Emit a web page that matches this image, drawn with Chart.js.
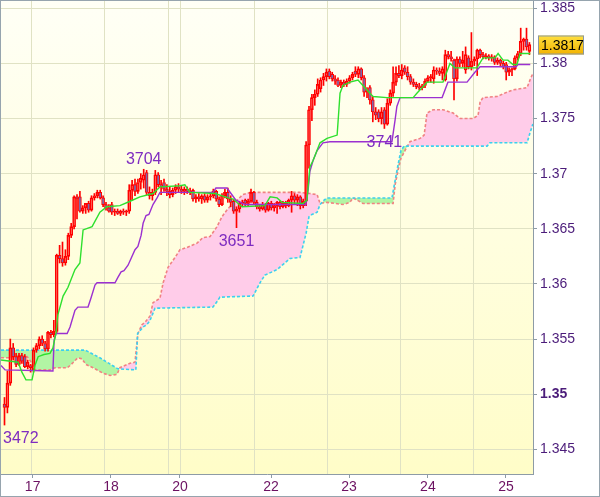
<!DOCTYPE html>
<html><head><meta charset="utf-8">
<script src="https://cdn.jsdelivr.net/npm/chart.js@4.4.0/dist/chart.umd.min.js"></script>
<style>html,body{margin:0;padding:0;background:#fff}#wrap{width:600px;height:497px}</style>
</head><body><div id="wrap"><canvas id="c" width="600" height="497"></canvas></div>
<script>
// Candles: [open, high, low, close], one per bar (bar index = position)
const ohlc = [
[1.3491,1.3497,1.3472,1.3488],[1.3488,1.3521,1.3483,1.3510],[1.3510,1.3550,1.3508,1.3542],[1.3542,1.3546,1.3531,1.3534],
[1.3534,1.3537,1.3525,1.3527],[1.3527,1.3537,1.3526,1.3535],[1.3535,1.3537,1.3528,1.3530],[1.3534,1.3536,1.3524,1.3525],
[1.3525,1.3531,1.3523,1.3529],[1.3526,1.3527,1.3520,1.3524],[1.3522,1.3542,1.3520,1.3540],[1.3540,1.3546,1.3538,1.3544],
[1.3544,1.3552,1.3541,1.3550],[1.3550,1.3553,1.3544,1.3546],[1.3546,1.3548,1.3539,1.3541],[1.3541,1.3557,1.3539,1.3556],
[1.3556,1.3558,1.3551,1.3554],[1.3554,1.3567,1.3552,1.3557],[1.3557,1.3627,1.3555,1.3626],[1.3626,1.3635,1.3619,1.3623],
[1.3623,1.3638,1.3616,1.3619],[1.3619,1.3631,1.3617,1.3625],[1.3625,1.3646,1.3622,1.3644],[1.3644,1.3655,1.3642,1.3652],
[1.3652,1.3680,1.3650,1.3679],[1.3679,1.3681,1.3659,1.3677],[1.3679,1.3684,1.3665,1.3666],[1.3666,1.3671,1.3664,1.3669],
[1.3669,1.3673,1.3664,1.3673],[1.3673,1.3675,1.3665,1.3667],[1.3667,1.3680,1.3666,1.3678],[1.3678,1.3682,1.3676,1.3680],
[1.3680,1.3685,1.3678,1.3683],[1.3683,1.3685,1.3677,1.3678],[1.3678,1.3680,1.3670,1.3672],[1.3672,1.3674,1.3667,1.3669],
[1.3669,1.3672,1.3665,1.3666],[1.3672,1.3674,1.3663,1.3665],[1.3665,1.3668,1.3662,1.3666],[1.3666,1.3668,1.3663,1.3664],
[1.3664,1.3667,1.3662,1.3666],[1.3666,1.3668,1.3663,1.3665],[1.3665,1.3667,1.3662,1.3666],[1.3666,1.3690,1.3664,1.3685],
[1.3685,1.3694,1.3676,1.3690],[1.3690,1.3695,1.3680,1.3684],[1.3684,1.3695,1.3682,1.3692],[1.3692,1.3700,1.3686,1.3696],
[1.3694,1.3704,1.3687,1.3699],[1.3701,1.3703,1.3681,1.3683],[1.3683,1.3688,1.3677,1.3680],[1.3680,1.3686,1.3676,1.3683],
[1.3683,1.3703,1.3681,1.3699],[1.3699,1.3701,1.3688,1.3690],[1.3690,1.3694,1.3681,1.3688],[1.3692,1.3695,1.3684,1.3686],
[1.3686,1.3690,1.3680,1.3684],[1.3684,1.3688,1.3678,1.3681],[1.3681,1.3687,1.3679,1.3685],[1.3685,1.3690,1.3682,1.3688],
[1.3688,1.3691,1.3683,1.3686],[1.3686,1.3689,1.3682,1.3684],[1.3684,1.3688,1.3681,1.3686],[1.3686,1.3688,1.3682,1.3684],
[1.3684,1.3687,1.3681,1.3683],[1.3685,1.3686,1.3675,1.3677],[1.3677,1.3681,1.3674,1.3679],[1.3679,1.3682,1.3675,1.3677],
[1.3677,1.3681,1.3673,1.3680],[1.3680,1.3682,1.3674,1.3676],[1.3676,1.3681,1.3674,1.3679],[1.3679,1.3682,1.3676,1.3680],
[1.3680,1.3686,1.3678,1.3684],[1.3684,1.3685,1.3675,1.3677],[1.3677,1.3679,1.3670,1.3672],[1.3672,1.3682,1.3671,1.3680],
[1.3680,1.3686,1.3678,1.3683],[1.3683,1.3687,1.3674,1.3677],[1.3677,1.3680,1.3670,1.3674],[1.3675,1.3677,1.3664,1.3666],
[1.3666,1.3670,1.3651,1.3668],[1.3668,1.3675,1.3665,1.3673],[1.3673,1.3676,1.3670,1.3674],[1.3676,1.3677,1.3671,1.3673],
[1.3673,1.3677,1.3670,1.3675],[1.3675,1.3686,1.3674,1.3683],[1.3683,1.3684,1.3672,1.3674],[1.3674,1.3676,1.3668,1.3670],
[1.3670,1.3672,1.3666,1.3668],[1.3668,1.3674,1.3667,1.3672],[1.3672,1.3673,1.3665,1.3667],[1.3667,1.3674,1.3666,1.3673],
[1.3673,1.3675,1.3667,1.3669],[1.3669,1.3673,1.3666,1.3671],[1.3671,1.3675,1.3664,1.3674],[1.3674,1.3675,1.3668,1.3670],
[1.3670,1.3675,1.3669,1.3673],[1.3673,1.3675,1.3669,1.3671],[1.3671,1.3677,1.3670,1.3676],[1.3676,1.3684,1.3665,1.3680],
[1.3680,1.3682,1.3672,1.3676],[1.3676,1.3681,1.3671,1.3679],[1.3679,1.3680,1.3668,1.3671],[1.3671,1.3677,1.3669,1.3675],
[1.3675,1.3729,1.3671,1.3726],[1.3726,1.3761,1.3705,1.3758],[1.3758,1.3772,1.3748,1.3769],[1.3769,1.3776,1.3762,1.3772],
[1.3772,1.3786,1.3770,1.3781],[1.3777,1.3787,1.3774,1.3785],[1.3785,1.3791,1.3780,1.3788],[1.3788,1.3795,1.3784,1.3792],
[1.3793,1.3795,1.3786,1.3788],[1.3790,1.3792,1.3784,1.3786],[1.3786,1.3789,1.3781,1.3784],[1.3785,1.3787,1.3779,1.3780],
[1.3780,1.3785,1.3778,1.3783],[1.3783,1.3785,1.3779,1.3781],[1.3781,1.3786,1.3779,1.3784],[1.3784,1.3789,1.3782,1.3787],
[1.3787,1.3792,1.3785,1.3790],[1.3793,1.3797,1.3788,1.3790],[1.3790,1.3797,1.3787,1.3795],[1.3795,1.3796,1.3785,1.3787],
[1.3787,1.3789,1.3770,1.3774],[1.3774,1.3778,1.3769,1.3775],[1.3778,1.3780,1.3763,1.3767],[1.3767,1.3770,1.3747,1.3756],
[1.3756,1.3760,1.3749,1.3753],[1.3756,1.3758,1.3747,1.3750],[1.3750,1.3760,1.3745,1.3756],[1.3758,1.3760,1.3741,1.3745],
[1.3745,1.3768,1.3744,1.3764],[1.3764,1.3776,1.3762,1.3773],[1.3773,1.3797,1.3770,1.3783],[1.3783,1.3797,1.3780,1.3791],
[1.3791,1.3798,1.3787,1.3789],[1.3789,1.3799,1.3786,1.3794],[1.3796,1.3798,1.3790,1.3792],[1.3792,1.3797,1.3785,1.3788],
[1.3788,1.3790,1.3781,1.3783],[1.3783,1.3786,1.3779,1.3781],[1.3781,1.3783,1.3777,1.3779],[1.3779,1.3782,1.3776,1.3778],
[1.3778,1.3781,1.3776,1.3780],[1.3780,1.3786,1.3778,1.3784],[1.3784,1.3789,1.3783,1.3787],[1.3787,1.3790,1.3783,1.3788],
[1.3786,1.3797,1.3782,1.3794],[1.3794,1.3796,1.3790,1.3793],[1.3793,1.3796,1.3789,1.3791],[1.3791,1.3797,1.3785,1.3795],
[1.3785,1.3812,1.3784,1.3808],[1.3808,1.3811,1.3804,1.3806],[1.3806,1.3811,1.3802,1.3804],[1.3803,1.3804,1.3767,1.3786],
[1.3786,1.3806,1.3784,1.3804],[1.3804,1.3806,1.3797,1.3800],[1.3800,1.3811,1.3797,1.3803],[1.3794,1.3815,1.3791,1.3808],
[1.3805,1.3807,1.3795,1.3797],[1.3797,1.3828,1.3794,1.3802],[1.3802,1.3806,1.3798,1.3804],[1.3804,1.3813,1.3789,1.3812],
[1.3812,1.3813,1.3805,1.3808],[1.3808,1.3810,1.3804,1.3806],[1.3806,1.3809,1.3804,1.3807],[1.3807,1.3808,1.3803,1.3805],
[1.3805,1.3808,1.3802,1.3806],[1.3806,1.3807,1.3799,1.3801],[1.3801,1.3805,1.3799,1.3803],[1.3803,1.3804,1.3798,1.3800],
[1.3800,1.3802,1.3795,1.3797],[1.3799,1.3801,1.3785,1.3792],[1.3792,1.3796,1.3789,1.3794],[1.3794,1.3796,1.3789,1.3795],
[1.3795,1.3807,1.3794,1.3805],[1.3805,1.3811,1.3803,1.3809],[1.3809,1.3832,1.3807,1.3820],[1.3820,1.3823,1.3812,1.3822],
[1.3822,1.3832,1.3812,1.3815],[1.3811,1.3819,1.3808,1.3817]
];

// Tenkan-sen (green) vertices: bar position / price
const tenkanX = [-1.2,4.7,6.0,7.4,9.5,10.5,11.6,13.6,15.7,16.7,17.8,18.4,20.2,21.9,24.3,26.0,27.1,30.2,32.9,35.3,39.8,43.3,46.7,51.2,53.6,60.5,62.2,63.9,72.6,77.1,78.8,81.9,89.8,91.6,94.0,95.7,102.9,104.3,105.3,106.4,108.8,111.2,114.7,115.7,116.7,119.1,121.9,123.6,126.0,127.1,131.9,140.9,142.2,145.7,151.2,153.6,155.3,162.9,165.0,169.1,170.2,171.9,173.6,175.3,176.7,177.8,181.3];
const tenkanY = [1.3531,1.3529,1.3520,1.3513,1.3513,1.3526,1.3534,1.3536,1.3537,1.3542,1.3556,1.3572,1.3589,1.3597,1.3613,1.3619,1.3649,1.3652,1.3665,1.3670,1.3671,1.3675,1.3679,1.3682,1.3688,1.3689,1.3690,1.3683,1.3682,1.3678,1.3677,1.3670,1.3671,1.3679,1.3678,1.3674,1.3673,1.3676,1.3706,1.3712,1.3728,1.3732,1.3735,1.3773,1.3780,1.3783,1.3785,1.3780,1.3773,1.3770,1.3769,1.3769,1.3773,1.3783,1.3783,1.3800,1.3796,1.3796,1.3805,1.3805,1.3809,1.3803,1.3803,1.3799,1.3799,1.3809,1.3809];

// Kijun-sen (purple) vertices
const kijunX = [-1.2,0.2,16.7,17.1,17.8,21.6,22.6,24.3,25.3,28.8,29.8,31.2,31.9,38.1,39.1,40.2,41.2,42.6,45.0,46.0,47.1,47.8,48.8,49.8,51.2,52.6,53.6,71.9,72.9,76.7,78.1,79.8,82.9,85.7,103.9,104.7,105.3,106.4,107.8,109.8,112.2,133.6,134.7,135.3,136.4,150.9,152.9,159.5,162.2,164.0,176.4,177.1,181.3];
const kijunY = [1.3526,1.3522,1.3521,1.3549,1.3555,1.3555,1.3561,1.3576,1.3579,1.3579,1.3587,1.3599,1.3601,1.3601,1.3606,1.3611,1.3612,1.3617,1.3631,1.3634,1.3644,1.3655,1.3662,1.3663,1.3672,1.3678,1.3683,1.3683,1.3687,1.3687,1.3682,1.3676,1.3672,1.3672,1.3672,1.3685,1.3702,1.3712,1.3721,1.3728,1.3729,1.3729,1.3749,1.3761,1.3769,1.3769,1.3783,1.3783,1.3792,1.3797,1.3797,1.3799,1.3799];

// Senkou span A (salmon dashed) vertices
const spanAX = [-1.2,3.6,7.8,9.5,10.5,15.7,17.4,21.6,22.6,25.3,26.7,28.1,30.5,34.0,36.4,38.8,39.8,43.3,45.0,46.0,47.4,48.4,50.2,51.2,53.6,54.7,56.4,58.8,60.5,62.9,66.4,68.4,70.9,73.3,75.0,76.7,78.4,80.2,82.2,84.7,101.9,105.3,107.8,108.8,111.2,116.7,119.1,120.2,121.6,123.6,134.0,134.7,135.7,136.7,138.1,139.8,143.3,144.7,145.7,147.8,151.2,154.7,157.1,161.6,163.3,164.0,165.0,169.8,173.3,175.3,180.2,181.2,182.2];
const spanAY = [1.3533,1.3533,1.3534,1.3528,1.3522,1.3522,1.3524,1.3524,1.3526,1.3533,1.3532,1.3527,1.3524,1.3519,1.3517,1.3518,1.3524,1.3528,1.3529,1.3555,1.3563,1.3565,1.3571,1.3583,1.3587,1.3601,1.3615,1.3624,1.3631,1.3633,1.3637,1.3642,1.3643,1.3652,1.3661,1.3667,1.3672,1.3676,1.3681,1.3683,1.3683,1.3682,1.3681,1.3673,1.3674,1.3672,1.3674,1.3678,1.3676,1.3673,1.3673,1.3690,1.3703,1.3714,1.3721,1.3729,1.3732,1.3735,1.3755,1.3758,1.3758,1.3755,1.3750,1.3750,1.3753,1.3765,1.3769,1.3770,1.3774,1.3776,1.3778,1.3785,1.3791];

// Senkou span B (cyan dashed) vertices
const spanBX = [-1.2,27.8,32.9,39.1,45.3,45.9,47.8,49.1,50.2,51.9,71.9,73.3,74.3,85.7,88.1,89.8,94.0,98.4,101.9,104.0,105.0,106.0,107.8,108.8,110.2,111.2,133.6,134.7,135.7,136.7,137.8,166.4,167.4,180.2,181.2,182.2];
const spanBY = [1.3540,1.3540,1.3533,1.3523,1.3522,1.3555,1.3561,1.3563,1.3567,1.3578,1.3579,1.3584,1.3588,1.3589,1.3601,1.3608,1.3613,1.3623,1.3624,1.3646,1.3661,1.3663,1.3665,1.3672,1.3676,1.3678,1.3678,1.3694,1.3708,1.3721,1.3725,1.3725,1.3728,1.3728,1.3737,1.3745];

// Axes
const xMin = -1.207, xMax = 182.24;
const yMin = 1.34276, yMax = 1.385662;
const xTickVals = [9.7,36.7,60.5,91.9,118.8,146.0,172.9];
const xTickLabels = ['17','18','20','22','23','24','25'];
const xGridVals = [9.3,34.4,56.5,60.6,86.2,111.4,136.5,161.7];
const yTickVals = [1.345,1.35,1.355,1.36,1.365,1.37,1.375,1.38,1.385];
const yTickLabels = ['1.345','1.35','1.355','1.36','1.365','1.37','1.375','1.38','1.385'];
const boldTick = 1.35;

// Marked extremes: bar index and which end of the candle
const markIndex = [0,48,80,131];
const markSide = ['low','high','low','low'];

const FONT = '"Liberation Sans", Arial, sans-serif';
Chart.defaults.font.family = FONT;
Chart.defaults.font.size = 14;

const RED = '#ff0000', BEAR = '#7c68ac', AXIS = '#8d9ba6', GRID = '#e0e2c4';

const bodies = ohlc.map((d,i)=>({x:i, y:[d[0], d[3]]}));
const upW = ohlc.map((d,i)=>({x:i, y:[Math.max(d[0],d[3]), d[1]]}));
const loW = ohlc.map((d,i)=>({x:i, y:[d[2], Math.min(d[0],d[3])]}));
const pts = (xs,ys)=>xs.map((x,i)=>({x, y:ys[i]}));

const plug = {
  id:'deco',
  beforeDraw(chart){
    const {ctx, chartArea:a} = chart;
    ctx.save();
    ctx.fillStyle = '#ffffff';
    ctx.fillRect(0,0,chart.width,chart.height);
    const g = ctx.createLinearGradient(0,a.top,0,a.bottom);
    g.addColorStop(0,'#fffff6'); g.addColorStop(1,'#fffdc8');
    ctx.fillStyle = g;
    ctx.fillRect(a.left,a.top,a.right-a.left,a.bottom-a.top);
    ctx.restore();
  },
  afterDatasetsDraw(chart){
    const {ctx, chartArea:a} = chart;
    const xs = chart.scales.x, ys = chart.scales.y;
    ctx.save();
    ctx.font = '16px ' + FONT;
    ctx.fillStyle = '#7e2cc0';
    ctx.textBaseline = 'middle';
    ctx.textAlign = 'left';
    markIndex.forEach((idx,k)=>{
      const isLow = markSide[k]==='low';
      const v = isLow ? ohlc[idx][2] : ohlc[idx][1];
      const txt = String(Math.round(v*10000) % 10000);
      const w = ctx.measureText(txt).width;
      const px = xs.getPixelForValue(idx);
      let left = Math.max(px - w/2, a.left + 2);
      const py = ys.getPixelForValue(v) + (isLow ? 14 : -10);
      ctx.fillText(txt, left, py);
    });
    ctx.restore();
  },
  afterDraw(chart){
    const {ctx} = chart;
    const ys = chart.scales.y;
    ctx.save();
    // price marker
    const last = ohlc[ohlc.length-1][3];
    const py = Math.round(ys.getPixelForValue(last));
    const x0 = ys.left + 5, w = 46, h = 19;
    const g = ctx.createLinearGradient(0,py-h/2,0,py+h/2);
    g.addColorStop(0,'#ffe040'); g.addColorStop(1,'#f2b200');
    ctx.fillStyle = g;
    ctx.fillRect(x0, py-h/2, w, h);
    ctx.strokeStyle = '#8a97a2'; ctx.lineWidth = 1;
    ctx.strokeRect(x0+0.5, py-h/2+0.5, w-1, h-1);
    ctx.fillStyle = '#000';
    ctx.font = '14px ' + FONT;
    ctx.textBaseline = 'middle'; ctx.textAlign = 'left';
    ctx.fillText(last.toFixed(4), x0+3, py+1);
    // frame
    ctx.strokeStyle = '#96a4ae';
    ctx.strokeRect(0.5,0.5,chart.width-1,chart.height-1);
    ctx.restore();
  }
};

new Chart(document.getElementById('c'), {
  type:'bar',
  data:{ datasets:[
    { type:'line', label:'spanA', data:pts(spanAX,spanAY), borderColor:'#f08282', borderWidth:1.6, borderDash:[3,2],
      pointRadius:0, tension:0, order:6, fill:{target:1, above:'#ffcce9', below:'#b2f5a4'} },
    { type:'line', label:'spanB', data:pts(spanBX,spanBY), borderColor:'#3cd0f0', borderWidth:1.6, borderDash:[3,2],
      pointRadius:0, tension:0, order:5, fill:false },
    { type:'bar', label:'upper wick', data:upW, backgroundColor:RED, borderWidth:0, barThickness:1, grouped:false, order:4 },
    { type:'bar', label:'lower wick', data:loW, backgroundColor:RED, borderWidth:0, barThickness:1, grouped:false, order:4 },
    { type:'bar', label:'body', data:bodies, grouped:false, order:3, barThickness:3,
      backgroundColor:(c)=>{ const d = ohlc[c.dataIndex]; return d && d[3] < d[0] ? BEAR : 'rgba(0,0,0,0)'; },
      borderColor:RED, borderWidth:1, borderSkipped:false },
    { type:'line', label:'kijun', data:pts(kijunX,kijunY), borderColor:'#9b30d0', borderWidth:1.4, pointRadius:0, tension:0, order:2, fill:false },
    { type:'line', label:'tenkan', data:pts(tenkanX,tenkanY), borderColor:'#2ee02e', borderWidth:1.4, pointRadius:0, tension:0, order:1, fill:false }
  ]},
  options:{
    responsive:false, animation:false, devicePixelRatio:1,
    layout:{ autoPadding:false, padding:{left:1, top:1, right:0, bottom:0} },
    plugins:{ legend:{display:false}, tooltip:{enabled:false} },
    events:[],
    scales:{
      x:{ type:'linear', position:'bottom', min:xMin, max:xMax, offset:false,
        afterBuildTicks:(s)=>{ s.ticks = xTickVals.map(v=>({value:v})); },
        afterFit:(s)=>{ s.height = 23; s.paddingLeft=0; s.paddingRight=0; s.paddingTop=0; s.paddingBottom=0; },
        grid:{ drawOnChartArea:false, drawTicks:true, tickLength:4, tickColor:AXIS, offset:false },
        border:{ display:true, color:AXIS },
        ticks:{ autoSkip:false, maxRotation:0, minRotation:0, padding:1, color:'#6c1262', font:{size:14},
          callback:(v,i)=>xTickLabels[i] } },
      xg:{ type:'linear', position:'bottom', min:xMin, max:xMax, offset:false,
        afterBuildTicks:(s)=>{ s.ticks = xGridVals.map(v=>({value:v})); },
        afterFit:(s)=>{ s.height = 0; s.paddingLeft=0; s.paddingRight=0; s.paddingTop=0; s.paddingBottom=0; },
        grid:{ drawTicks:false, color:GRID, offset:false },
        border:{ display:false }, ticks:{ display:false } },
      y:{ type:'linear', position:'right', min:yMin, max:yMax,
        afterBuildTicks:(s)=>{ s.ticks = yTickVals.map(v=>({value:v})); },
        afterFit:(s)=>{ s.width = 67; s.paddingLeft=0; s.paddingRight=0; s.paddingTop=0; s.paddingBottom=0; },
        grid:{ color:GRID, tickLength:4, tickColor:AXIS },
        border:{ color:AXIS },
        ticks:{ padding:3, color:'#4b1c7a',
          font:(c)=>({size:14, weight:(c.tick && Math.abs(c.tick.value-boldTick)<1e-9)?'bold':'normal'}),
          callback:(v,i)=>yTickLabels[i] } }
    }
  },
  plugins:[plug]
});
</script>
</body></html>
